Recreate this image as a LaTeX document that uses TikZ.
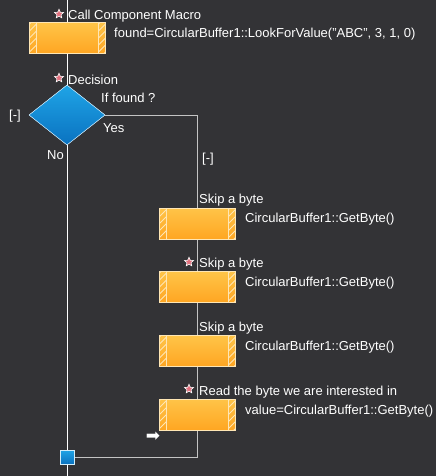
\documentclass[tikz,border=0pt]{standalone}
\usepackage{fontspec}
\setmainfont{Liberation Sans}
\newfontfamily\symfont{DejaVu Sans}
\usetikzlibrary{positioning,calc,shapes.geometric}
\definecolor{bg}{HTML}{333336}
\definecolor{boxtop}{HTML}{FFC448}
\definecolor{boxbot}{HTML}{FFA622}
\definecolor{boxedge}{HTML}{FFE6B4}
\definecolor{bluetop}{HTML}{1FA4E6}
\definecolor{bluebot}{HTML}{0A72C0}
\definecolor{branch}{HTML}{C4C4C4}
\definecolor{starpink}{HTML}{E2707E}
\tikzset{
  cmdbox/.style={draw=boxedge, top color=boxtop, bottom color=boxbot, minimum width=76pt, minimum height=31pt, inner sep=0pt,
    path picture={
      \foreach \side/\dx in {west/7pt, east/-7pt}{
        \begin{scope}
          \clip (path picture bounding box.north \side) rectangle ([xshift=\dx]path picture bounding box.south \side);
          \foreach \k in {-1,...,4}
            \draw[boxedge, line width=0.8pt] ([xshift=-8pt, yshift=\k*7pt]path picture bounding box.south \side) -- ++(16pt,16pt);
        \end{scope}
        \draw[boxedge] ([xshift=\dx]path picture bounding box.north \side) -- ([xshift=\dx]path picture bounding box.south \side);
      }}},
  decision/.style={diamond, draw=white!85!bluetop, top color=bluetop, bottom color=bluebot, minimum width=76pt, minimum height=60pt, inner sep=0pt},
  joint/.style={draw=white!80!bluetop, top color=bluetop, bottom color=bluebot, minimum size=14pt, inner sep=0pt},
  lbl/.style={text=white, font=\fontsize{13}{14}\selectfont, anchor=west, inner sep=0pt},
  flagstar/.style={star, star points=5, star point ratio=2.2, fill=starpink, draw=white, line width=0.6pt, minimum size=9.5pt, inner sep=0pt},
}

\begin{document}
\begin{tikzpicture}[x=1pt,y=-1pt]
\fill[bg] (0,0) rectangle (436,476);
\useasboundingbox (0,0) rectangle (436,476);

% Component macro and decision
\coordinate (top) at (67,0);
\node[cmdbox] (call) at (67,38) {};
\node[decision] (dec) at (67,115) {};
\node[joint] (join) at (67,457) {};
\coordinate (bottom) at (67,476);

% Yes branch boxes
\coordinate (corner) at (197,115);
\node[cmdbox] (skipa) at (197,223.5) {};
\node[cmdbox] (skipb) at (197,287) {};
\node[cmdbox] (skipc) at (197,351) {};
\node[cmdbox] (readb) at (197,414.5) {};
\coordinate (back) at (197,457);

% Main line
\draw[white] (top) -- (call) (call) -- (dec) (dec) -- (join) (join) -- (bottom);

% Yes branch
\draw[branch] (dec.east) -- (corner) -- (skipa);
\draw[branch] (skipa) -- (skipb);
\draw[branch] (skipb) -- (skipc);
\draw[branch] (skipc) -- (readb);
\draw[branch] (readb) -- (back) -- (join);
\node[joint] at (join) {};
\node[cmdbox] at (call) {};
\node[decision] at (dec) {};
\foreach \b in {skipa,skipb,skipc,readb} \node[cmdbox] at (\b) {};

% Labels
\node[lbl] (callt) at (68,16) {Call Component Macro};
\node[lbl] (callv) at (114,34) {found=CircularBuffer1::LookForValue("ABC", 3, 1, 0)};
\node[lbl] (dect) at (68,80) {Decision};
\node[lbl] (decq) at (101,98) {If found ?};
\node[lbl] (fold) at (9,116) {[-]};
\node[lbl] (yes) at (103,128) {Yes};
\node[lbl, anchor=east] (no) at (64,155) {No};
\node[lbl] (foldb) at (202,159) {[-]};
\node[lbl] (skipat) at (199,200) {Skip a byte};
\node[lbl] (skipav) at (245,219) {CircularBuffer1::GetByte()};
\node[lbl] (skipbt) at (199,264) {Skip a byte};
\node[lbl] (skipbv) at (245,283) {CircularBuffer1::GetByte()};
\node[lbl] (skipct) at (199,328) {Skip a byte};
\node[lbl] (skipcv) at (245,347) {CircularBuffer1::GetByte()};
\node[lbl] (readt) at (199,392) {Read the byte we are interested in};
\node[lbl] (readv) at (245,411) {value=CircularBuffer1::GetByte()};

% Stars and cursor
\node[flagstar] (starcall) at (59,14) {};
\node[flagstar] (stardec) at (59,78) {};
\node[flagstar] (starskip) at (189,262) {};
\node[flagstar] (starread) at (189,389) {};
\node[text=white, font=\symfont\fontsize{17}{18}\selectfont, inner sep=0pt] (cursor) at (153,437) {➡};
\end{tikzpicture}
\end{document}
